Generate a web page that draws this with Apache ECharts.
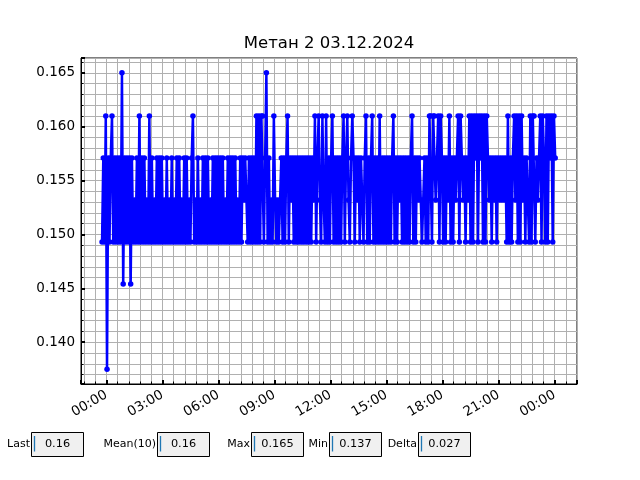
<!DOCTYPE html>
<html><head><meta charset="utf-8">
<script src="https://cdn.jsdelivr.net/npm/echarts@6/dist/echarts.min.js"></script>
<style>html,body{margin:0;padding:0;background:#fff}#c{width:640px;height:480px}</style>
</head><body><div id="c"></div>
<script>
// ---------- data ----------
const titleText = 'Метан 2 03.12.2024';
// quantized sensor levels
const levels = [0.1375, 0.1454, 0.1493, 0.1532, 0.1571, 0.1610, 0.1650];
// samples every 4 minutes, starting 23:46 on 02.12 (hours relative to 03.12 00:00)
const startHour = -14 / 60;
const stepHours = 4 / 60;
// one string per hour, each char = index into levels
const levelCodes = [
  '2425',            // 23:46 - 23:58
  '042452424242614', // 00
  '242414232425242', // 01
  '423252423242424', // 02
  '232423242324242', // 03
  '324242324523242', // 04
  '324242423242424', // 05
  '242423242424242', // 06
  '324243432424242', // 07
  '525255246242325', // 08
  '323234242452434', // 09
  '242424242424242', // 10
  '435245325325242', // 11
  '452424242452453', // 12
  '245424342432452', // 13
  '424524242524242', // 14
  '424245242434242', // 15
  '424245242434323', // 16
  '424255255345254', // 17
  '242435242434525', // 18
  '434243525254525', // 19
  '452525434243424', // 20
  '343434252424535', // 21
  '252534243252552', // 22
  '434525425254525', // 23
  '4'                // 00:02 (04.12)
];
const xTickLabels = ['00:00','03:00','06:00','09:00','12:00','15:00','18:00','21:00','00:00'];
const yTickLabels = ['0.140','0.145','0.150','0.155','0.160','0.165'];
const statLabels = ['Last', 'Mean(10)', 'Max', 'Min', 'Delta'];
const statValues = ['0.16', '0.16', '0.165', '0.137', '0.027'];

// ---------- layout ----------
const xMin = -1.36, xMax = 25.2;
const yMin = 0.136125, yMax = 0.166375;
const statBoxX = [31.5, 157.5, 251.5, 329.5, 418.5];
const statBoxW = 52, statBoxY = 432.5, statBoxH = 24;
const FONT = '"DejaVu Sans", sans-serif';

const codes = levelCodes.join('');
const seriesData = [];
for (let i = 0; i < codes.length; i++) {
  seriesData.push([startHour + i * stepHours, levels[+codes[i]]]);
}

const graphics = [{
  type: 'text', x: 329, y: 43.5, z: 10,
  style: { text: titleText, font: '16.5px ' + FONT, fill: '#000',
           align: 'center', verticalAlign: 'middle', textAlign: 'center', textVerticalAlign: 'middle' }
}];
statLabels.forEach((lab, k) => {
  const bx = statBoxX[k];
  graphics.push({ type: 'rect', shape: { x: bx, y: statBoxY, width: statBoxW, height: statBoxH },
    style: { fill: '#f0f0f0', stroke: '#000', lineWidth: 1 } });
  graphics.push({ type: 'line', shape: { x1: bx + 3, y1: statBoxY + 3.5, x2: bx + 3, y2: statBoxY + 19 },
    style: { stroke: '#1f77b4', lineWidth: 1.3 } });
  graphics.push({ type: 'text', x: bx - 1.5, y: 444,
    style: { text: lab, font: '11px ' + FONT, fill: '#000', align: 'right', verticalAlign: 'middle',
             textAlign: 'right', textVerticalAlign: 'middle' } });
  graphics.push({ type: 'text', x: bx + statBoxW / 2, y: 444,
    style: { text: statValues[k], font: '11.3px ' + FONT, fill: '#000', align: 'center', verticalAlign: 'middle',
             textAlign: 'center', textVerticalAlign: 'middle' } });
});

const chart = echarts.init(document.getElementById('c'), null, { renderer: 'canvas' });
const gridCol = '#b0b0b0';
chart.setOption({
  animation: false,
  backgroundColor: '#fff',
  grid: { left: 81, right: 63, top: 58, bottom: 96, show: true, borderColor: '#000', borderWidth: 1,
          containLabel: false, outerBoundsMode: 'none' },
  xAxis: {
    type: 'value', min: xMin, max: xMax, splitNumber: 9,
    axisLine: { show: true, onZero: false, lineStyle: { color: '#000', width: 1 } },
    axisTick: { show: true, inside: true, length: 4, lineStyle: { color: '#000', width: 2 } },
    minorTick: { show: true, splitNumber: 5, length: 2.5, lineStyle: { color: '#000', width: 1 } },
    splitLine: { show: true, lineStyle: { color: gridCol, width: 1 } },
    minorSplitLine: { show: true, lineStyle: { color: gridCol, width: 1 } },
    axisLabel: {
      show: true, rotate: 30, margin: 10, color: '#000', fontFamily: 'DejaVu Sans', fontSize: 13.5,
      showMinLabel: false, showMaxLabel: false, hideOverlap: false,
      formatter: v => {
        const k = Math.round(v / 3);
        if (Math.abs(v - k * 3) > 1e-6 || k < 0 || k >= xTickLabels.length) return '';
        return xTickLabels[k];
      }
    }
  },
  yAxis: {
    type: 'value', min: yMin, max: yMax, splitNumber: 5,
    axisLine: { show: true, onZero: false, lineStyle: { color: '#000', width: 1 } },
    axisTick: { show: true, inside: true, length: 4, lineStyle: { color: '#000', width: 2 } },
    minorTick: { show: true, splitNumber: 5, length: 2.5, lineStyle: { color: '#000', width: 1 } },
    splitLine: { show: true, lineStyle: { color: gridCol, width: 1 } },
    minorSplitLine: { show: true, lineStyle: { color: gridCol, width: 1 } },
    axisLabel: {
      show: true, margin: 6, color: '#000', fontFamily: 'DejaVu Sans', fontSize: 13.5,
      showMinLabel: false, showMaxLabel: false, hideOverlap: false,
      formatter: v => {
        const k = Math.round((v - 0.140) / 0.005);
        if (Math.abs(v - (0.140 + k * 0.005)) > 1e-7 || k < 0 || k >= yTickLabels.length) return '';
        return yTickLabels[k];
      }
    }
  },
  series: [{
    type: 'line', data: seriesData, color: '#0000ff',
    symbol: 'circle', symbolSize: 5.5, showSymbol: true, showAllSymbol: true,
    lineStyle: { color: '#0000ff', width: 2.5, join: 'round' },
    itemStyle: { color: '#0000ff', borderWidth: 0 },
    emphasis: { disabled: true }, silent: true, clip: true
  }],
  graphic: graphics
});
</script></body></html>
